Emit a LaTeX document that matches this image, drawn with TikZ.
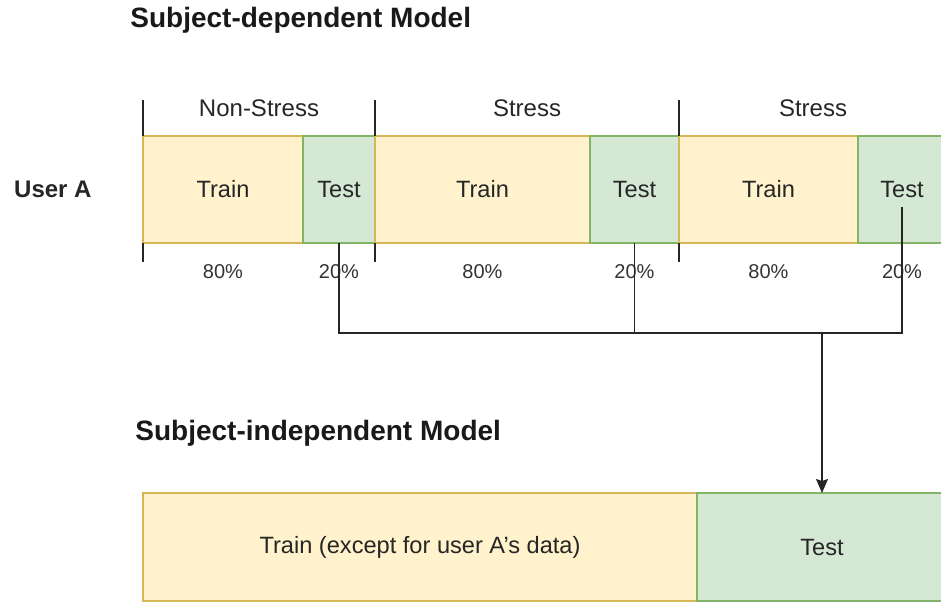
\documentclass[tikz,border=0pt]{standalone}
\usepackage{fontspec}
\setmainfont{Liberation Sans}
\usepackage{xcolor}
\usepackage{tikz}
\usetikzlibrary{arrows.meta, positioning, calc}

\definecolor{trainfill}{HTML}{FFF2CC}
\definecolor{traindraw}{HTML}{D6B656}
\definecolor{testfill}{HTML}{D5E8D4}
\definecolor{testdraw}{HTML}{82B366}

\begin{document}
\begin{tikzpicture}[
    x=0.5pt, y=-0.5pt,
    node distance=0pt,
    part/.style={draw, rectangle, line width=0.6pt, inner sep=0pt, outer sep=0pt, minimum height=53.5pt, font=\fontsize{11.8}{13}\selectfont, text=black!85},
    trainpart/.style={part, fill=trainfill, draw=traindraw},
    testpart/.style={part, fill=testfill, draw=testdraw},
    title/.style={font=\fontsize{14}{16}\selectfont\bfseries, anchor=west, inner sep=0pt, text=black!90},
    pct/.style={font=\fontsize{10}{12}\selectfont, text=black!80},
    cls/.style={font=\fontsize{12}{14}\selectfont, text=black!85},
    tick/.style={line width=0.6pt, black!85},
    wire/.style={line width=0.6pt, black!85}
]
\useasboundingbox (0,0) rectangle (941,603);

% subject-dependent split
\node (title1) [title] at (130,20) {Subject-dependent Model};

\node (trainA) [trainpart, minimum width=80pt, anchor=north west] at (143,136) {Train};
\node (testA) [testpart, minimum width=36pt, right=of trainA] {Test};
\node (trainB) [trainpart, minimum width=107.5pt, right=of testA] {Train};
\node (testB) [testpart, minimum width=44.5pt, right=of trainB] {Test};
\node (trainC) [trainpart, minimum width=89.5pt, right=of testB] {Train};
\node (testC) [testpart, minimum width=44pt, right=of trainC] {Test};

\node (user) [cls, font=\fontsize{12}{14}\selectfont\bfseries, inner sep=0pt, left=25.5pt of trainA] {User A};

\node (clsA) [cls] at (259,108) {Non-Stress};
\node (clsB) [cls] at (527,108) {Stress};
\node (clsC) [cls] at (813,108) {Stress};

\foreach \p/\t in {trainA/80\%, testA/20\%, trainB/80\%, testB/20\%, trainC/80\%, testC/20\%}
    \node (pct-\p) [pct] at ($(\p.south)+(0,29)$) {\t};

% ticks between classes
\foreach \b in {trainA, trainB, trainC} {
    \draw [tick] (\b.north west) -- ++(0,-36);
    \draw [tick] (\b.south west) -- ++(0,19);
}

% subject-independent split
\node (title2) [title] at (135,433) {Subject-independent Model};

\node (trainAll) [trainpart, minimum width=277pt, minimum height=54pt, anchor=north west] at (143,493) {Train (except for user A{\char"0027}s data)};
\node (testAll) [testpart, minimum width=125pt, minimum height=54pt, right=of trainAll] {Test};

% collect test parts
\coordinate (join) at (testAll.north |- 0,333);
\coordinate (startC) at ($(testC.center)+(0,18)$);

\draw [wire] (testA.south) |- (join);
\draw [wire] (testB.south) -- (testB.south |- join);
\draw [wire] (startC) |- (join);
\draw [wire, -{Stealth[length=7pt, width=6pt, inset=1pt]}] (join) -- (testAll.north);

\end{tikzpicture}
\end{document}
